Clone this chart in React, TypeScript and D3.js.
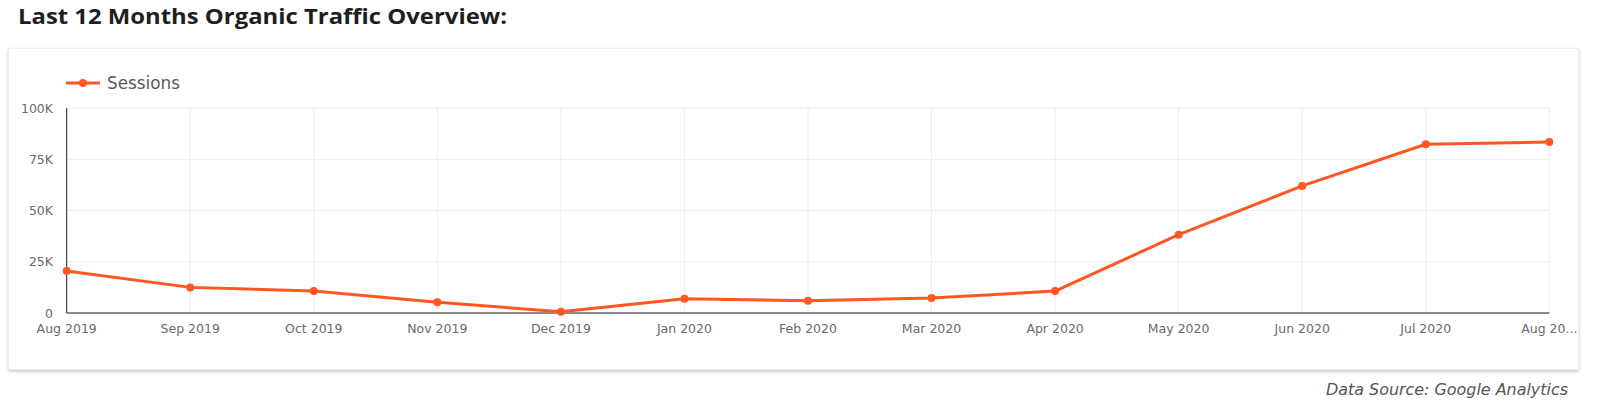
import React from "react";
import * as d3 from "d3";

const months = ["Aug 2019","Sep 2019","Oct 2019","Nov 2019","Dec 2019","Jan 2020","Feb 2020","Mar 2020","Apr 2020","May 2020","Jun 2020","Jul 2020","Aug 2020"];
const monthLabels = ["Aug 2019","Sep 2019","Oct 2019","Nov 2019","Dec 2019","Jan 2020","Feb 2020","Mar 2020","Apr 2020","May 2020","Jun 2020","Jul 2020","Aug 20..."];
const sessions = [20500, 12500, 10700, 5300, 600, 7000, 6000, 7300, 10700, 38200, 62000, 82300, 83400];
const yTicks = [0, 25000, 50000, 75000, 100000];
const yTickLabels = ["0", "25K", "50K", "75K", "100K"];

const W = 1600, H = 406;
const FONT = "'DejaVu Sans', 'Open Sans', sans-serif";
const TITLE_FONT = "'Open Sans', 'DejaVu Sans', sans-serif";
const ORANGE = "#FF5722";

export default function App() {
  const x = d3.scalePoint<string>().domain(months).range([66.7, 1549.3]);
  const y = d3.scaleLinear().domain([0, 100000]).range([313, 108]);
  const line = d3.line<number>().x((_, i) => x(months[i])!).y(d => y(d));

  return (
    <svg width={W} height={H} style={{ position: "absolute", left: 0, top: 0, background: "#fff" }}>
      <defs>
        <filter id="sh" x="-5%" y="-10%" width="110%" height="130%">
          <feDropShadow dx="0" dy="1.5" stdDeviation="1.5" floodColor="#000" floodOpacity="0.22" />
        </filter>
      </defs>
      <text x={18} y={23.5} fontFamily={TITLE_FONT} fontWeight={700} fontSize={22} fill="#1e1e1e" textLength={489} lengthAdjust="spacingAndGlyphs">
        Last 12 Months Organic Traffic Overview:
      </text>
      <rect x={8.5} y={48.5} width={1570} height={321} fill="#fff" stroke="#eeeeee" filter="url(#sh)" />

      {/* legend */}
      <line x1={66} x2={100} y1={83} y2={83} stroke={ORANGE} strokeWidth={3} />
      <circle cx={83} cy={83} r={4} fill={ORANGE} />
      <text x={107} y={89} fontFamily={FONT} fontSize={17} fill="#5a5a5a" textLength={73} lengthAdjust="spacingAndGlyphs">Sessions</text>

      {/* grid */}
      {yTicks.map(t => (
        <line key={"h" + t} x1={66.7} x2={1549.3} y1={y(t)} y2={y(t)} stroke="#ececec" strokeWidth={1} />
      ))}
      {months.map(m => (
        <line key={"v" + m} x1={x(m)} x2={x(m)} y1={y(100000)} y2={y(0)} stroke="#ececec" strokeWidth={1} />
      ))}
      {/* axes */}
      <line x1={66.7} x2={66.7} y1={y(100000)} y2={y(0)} stroke="#222" strokeWidth={1} />
      <line x1={66.7} x2={1549.3} y1={y(0)} y2={y(0)} stroke="#222" strokeWidth={1} />

      {yTicks.map((t, i) => (
        <text key={"yl" + t} x={53} y={y(t) + 4.5} textAnchor="end" fontFamily={FONT} fontSize={12.5} fill="#6a6a6a">{yTickLabels[i]}</text>
      ))}
      {months.map((m, i) => (
        <text key={"xl" + m} x={x(m)} y={333} textAnchor="middle" fontFamily={FONT} fontSize={12.5} fill="#6a6a6a">{monthLabels[i]}</text>
      ))}

      <path d={line(sessions)!} fill="none" stroke={ORANGE} strokeWidth={3} strokeLinejoin="round" />
      {sessions.map((v, i) => (
        <circle key={"p" + i} cx={x(months[i])} cy={y(v)} r={4} fill={ORANGE} />
      ))}

      <text x={1326} y={395} fontFamily={FONT} fontStyle="italic" fontSize={15} fill="#555" textLength={242} lengthAdjust="spacingAndGlyphs">Data Source: Google Analytics</text>
    </svg>
  );
}
